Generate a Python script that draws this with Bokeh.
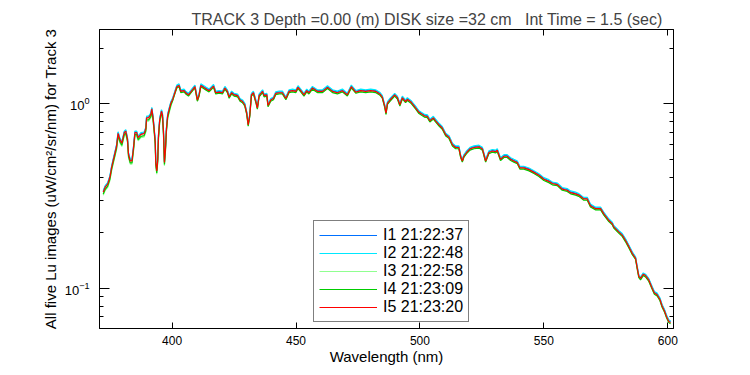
from bokeh.plotting import figure
from bokeh.models import (FixedTicker, LinearAxis, LogAxis, Legend, LegendItem, Range1d)
from bokeh.embed import file_html
from bokeh.resources import INLINE

FONT = "Liberation Sans"

# ---------------- data ----------------
wavelength = [
    372.2, 373.0, 374.0, 374.9, 375.6, 376.2, 377.0, 377.6, 378.2, 378.9,
    379.7, 380.7, 381.3, 382.0, 382.4, 383.1, 383.8, 384.4, 385.0, 385.7,
    386.3, 387.4, 388.7, 389.4, 389.7, 390.5, 391.4, 391.8, 392.3, 392.7,
    393.2, 393.4, 393.8, 394.2, 394.5, 395.0, 395.7, 396.1, 396.5, 396.9,
    397.3, 397.7, 398.2, 398.8, 399.5, 400.2, 401.1, 401.9, 402.8, 403.5,
    404.8, 405.5, 406.6, 407.5, 409.2, 410.2, 410.9, 411.6, 413.6, 414.9,
    416.7, 417.6, 419.0, 420.3, 421.3, 422.3, 423.0, 424.0, 425.0, 426.4,
    427.4, 428.4, 429.3, 430.1, 430.7, 431.3, 432.0, 432.8, 433.8, 434.4,
    435.1, 436.5, 437.1, 438.2, 438.7, 439.8, 440.9, 441.8, 443.2, 444.5,
    445.9, 447.2, 448.6, 449.9, 450.8, 451.9, 453.2, 454.3, 455.2, 456.6,
    458.6, 460.7, 462.7, 464.7, 466.7, 468.7, 470.7, 472.3, 474.1, 476.1,
    478.1, 480.1, 482.1, 483.9, 484.8, 485.8, 486.3, 486.9, 487.9, 489.8,
    490.9, 491.9, 492.9, 494.2, 494.9, 496.5, 498.3, 499.6, 501.0, 501.9,
    503.0, 504.0, 505.4, 506.3, 507.7, 509.0, 510.4, 511.7, 513.1, 514.4,
    515.7, 516.4, 517.1, 517.7, 518.8, 520.2, 521.8, 523.8, 525.2, 526.5,
    527.8, 529.2, 530.5, 531.2, 532.5, 533.9, 535.2, 536.6, 537.9, 539.3,
    540.3, 541.9, 544.0, 546.0, 548.0, 550.0, 552.0, 553.4, 555.4, 557.4,
    559.4, 560.8, 562.8, 564.1, 566.1, 567.5, 568.8, 570.9, 572.9, 574.2,
    576.2, 577.6, 578.2, 580.2, 581.6, 582.9, 584.3, 585.7, 587.0, 587.7,
    588.3, 589.0, 590.1, 591.0, 592.3, 593.7, 594.6, 595.7, 596.8, 597.7,
    598.7, 599.5, 600.4, 601.1,
]

lu_i1 = [
    0.335, 0.357, 0.371, 0.404, 0.457, 0.496, 0.550, 0.597, 0.699, 0.648,
    0.617, 0.705, 0.719, 0.648, 0.538, 0.496, 0.496, 0.579, 0.705, 0.705,
    0.663, 0.691, 0.697, 0.740, 0.849, 0.849, 0.884, 0.949, 0.849, 0.750,
    0.623, 0.486, 0.437, 0.506, 0.676, 0.831, 0.921, 0.884, 0.719, 0.486,
    0.573, 0.734, 0.874, 0.940, 1.020, 1.066, 1.162, 1.252, 1.273, 1.182,
    1.192, 1.162, 1.131, 1.172, 1.252, 1.061, 1.131, 1.273, 1.222, 1.192,
    1.263, 1.162, 1.172, 1.162, 1.232, 1.182, 1.101, 1.162, 1.131, 1.121,
    1.061, 1.040, 1.000, 0.899, 0.778, 0.869, 1.131, 1.162, 1.040, 0.960,
    1.121, 1.182, 1.121, 1.131, 0.990, 1.061, 1.081, 1.151, 1.162, 1.162,
    1.081, 1.182, 1.192, 1.182, 1.242, 1.192, 1.131, 1.192, 1.162, 1.232,
    1.182, 1.182, 1.242, 1.182, 1.162, 1.192, 1.131, 1.252, 1.172, 1.192,
    1.182, 1.192, 1.182, 1.141, 1.101, 0.980, 0.899, 1.020, 1.061, 1.131,
    1.091, 1.000, 1.091, 1.040, 1.071, 1.030, 0.960, 0.909, 0.884, 0.869,
    0.864, 0.818, 0.848, 0.818, 0.778, 0.747, 0.687, 0.667, 0.606, 0.586,
    0.586, 0.525, 0.495, 0.525, 0.550, 0.576, 0.586, 0.591, 0.576, 0.495,
    0.550, 0.561, 0.556, 0.566, 0.505, 0.525, 0.525, 0.505, 0.495, 0.485,
    0.455, 0.455, 0.444, 0.429, 0.414, 0.394, 0.384, 0.374, 0.369, 0.348,
    0.343, 0.333, 0.328, 0.323, 0.308, 0.308, 0.283, 0.273, 0.273, 0.256,
    0.235, 0.226, 0.217, 0.204, 0.196, 0.184, 0.170, 0.156, 0.146, 0.129,
    0.117, 0.114, 0.120, 0.118, 0.112, 0.101, 0.095, 0.093, 0.0879, 0.0808,
    0.0758, 0.0707, 0.0667, 0.0657,
]

lu_i2 = [
    0.339, 0.360, 0.374, 0.408, 0.461, 0.501, 0.556, 0.603, 0.706, 0.655,
    0.623, 0.712, 0.726, 0.655, 0.544, 0.501, 0.501, 0.584, 0.712, 0.712,
    0.669, 0.698, 0.704, 0.748, 0.858, 0.858, 0.893, 0.959, 0.858, 0.758,
    0.629, 0.491, 0.442, 0.511, 0.682, 0.839, 0.930, 0.893, 0.726, 0.491,
    0.578, 0.742, 0.882, 0.950, 1.030, 1.076, 1.173, 1.265, 1.285, 1.193,
    1.204, 1.173, 1.142, 1.183, 1.265, 1.071, 1.142, 1.285, 1.234, 1.204,
    1.275, 1.173, 1.183, 1.173, 1.244, 1.193, 1.112, 1.173, 1.142, 1.132,
    1.071, 1.051, 1.010, 0.908, 0.785, 0.877, 1.142, 1.173, 1.051, 0.969,
    1.132, 1.193, 1.132, 1.142, 1.000, 1.071, 1.091, 1.163, 1.173, 1.173,
    1.091, 1.193, 1.204, 1.193, 1.255, 1.204, 1.142, 1.204, 1.173, 1.244,
    1.193, 1.193, 1.255, 1.193, 1.173, 1.204, 1.142, 1.265, 1.183, 1.204,
    1.193, 1.204, 1.193, 1.153, 1.112, 0.989, 0.908, 1.030, 1.071, 1.142,
    1.102, 1.010, 1.102, 1.051, 1.081, 1.040, 0.969, 0.918, 0.893, 0.877,
    0.872, 0.826, 0.857, 0.826, 0.785, 0.755, 0.694, 0.673, 0.612, 0.592,
    0.592, 0.530, 0.500, 0.530, 0.556, 0.581, 0.592, 0.597, 0.581, 0.500,
    0.556, 0.566, 0.561, 0.571, 0.510, 0.530, 0.530, 0.510, 0.500, 0.490,
    0.459, 0.459, 0.449, 0.434, 0.418, 0.398, 0.388, 0.377, 0.372, 0.352,
    0.347, 0.337, 0.332, 0.326, 0.311, 0.311, 0.286, 0.275, 0.275, 0.258,
    0.238, 0.228, 0.219, 0.206, 0.198, 0.186, 0.171, 0.157, 0.148, 0.131,
    0.118, 0.115, 0.121, 0.119, 0.113, 0.102, 0.096, 0.094, 0.0887, 0.0816,
    0.0765, 0.0714, 0.0673, 0.0663,
]

lu_i3 = [
    0.319, 0.339, 0.352, 0.384, 0.434, 0.471, 0.523, 0.567, 0.664, 0.616,
    0.587, 0.670, 0.684, 0.616, 0.512, 0.471, 0.471, 0.550, 0.670, 0.670,
    0.630, 0.657, 0.662, 0.704, 0.807, 0.807, 0.840, 0.902, 0.807, 0.713,
    0.592, 0.462, 0.416, 0.481, 0.642, 0.790, 0.876, 0.840, 0.684, 0.462,
    0.544, 0.698, 0.830, 0.894, 0.970, 1.044, 1.139, 1.228, 1.247, 1.158,
    1.168, 1.139, 1.109, 1.148, 1.228, 1.040, 1.109, 1.247, 1.198, 1.168,
    1.238, 1.139, 1.148, 1.139, 1.208, 1.158, 1.079, 1.139, 1.109, 1.099,
    1.040, 1.020, 0.980, 0.881, 0.762, 0.851, 1.109, 1.139, 1.020, 0.941,
    1.099, 1.158, 1.099, 1.109, 0.970, 1.040, 1.059, 1.129, 1.139, 1.139,
    1.059, 1.158, 1.168, 1.158, 1.218, 1.168, 1.109, 1.168, 1.139, 1.208,
    1.158, 1.158, 1.218, 1.158, 1.139, 1.168, 1.109, 1.228, 1.148, 1.168,
    1.158, 1.168, 1.158, 1.119, 1.079, 0.960, 0.881, 1.000, 1.040, 1.109,
    1.069, 0.980, 1.069, 1.020, 1.049, 1.010, 0.941, 0.891, 0.866, 0.851,
    0.846, 0.802, 0.832, 0.802, 0.762, 0.733, 0.673, 0.653, 0.594, 0.574,
    0.574, 0.515, 0.485, 0.515, 0.540, 0.564, 0.574, 0.579, 0.564, 0.485,
    0.540, 0.549, 0.545, 0.554, 0.495, 0.515, 0.515, 0.495, 0.485, 0.475,
    0.446, 0.446, 0.436, 0.421, 0.406, 0.386, 0.376, 0.366, 0.361, 0.342,
    0.337, 0.327, 0.322, 0.317, 0.302, 0.302, 0.277, 0.267, 0.267, 0.250,
    0.231, 0.222, 0.213, 0.200, 0.192, 0.180, 0.166, 0.152, 0.144, 0.127,
    0.115, 0.112, 0.118, 0.116, 0.110, 0.099, 0.093, 0.091, 0.0861, 0.0792,
    0.0743, 0.0693, 0.0653, 0.0644,
]

lu_i4 = [
    0.324, 0.344, 0.358, 0.390, 0.441, 0.479, 0.531, 0.576, 0.675, 0.626,
    0.596, 0.681, 0.694, 0.626, 0.520, 0.479, 0.479, 0.559, 0.681, 0.681,
    0.640, 0.667, 0.673, 0.715, 0.820, 0.820, 0.853, 0.917, 0.820, 0.724,
    0.602, 0.469, 0.422, 0.488, 0.652, 0.802, 0.889, 0.853, 0.694, 0.469,
    0.553, 0.709, 0.843, 0.908, 0.985, 1.039, 1.133, 1.221, 1.241, 1.152,
    1.162, 1.133, 1.103, 1.143, 1.221, 1.034, 1.103, 1.241, 1.192, 1.162,
    1.231, 1.133, 1.143, 1.133, 1.202, 1.152, 1.074, 1.133, 1.103, 1.093,
    1.034, 1.015, 0.975, 0.877, 0.758, 0.847, 1.103, 1.133, 1.015, 0.936,
    1.093, 1.152, 1.093, 1.103, 0.965, 1.034, 1.054, 1.123, 1.133, 1.133,
    1.054, 1.152, 1.162, 1.152, 1.212, 1.162, 1.103, 1.162, 1.133, 1.202,
    1.152, 1.152, 1.212, 1.152, 1.133, 1.162, 1.103, 1.221, 1.143, 1.162,
    1.152, 1.162, 1.152, 1.113, 1.074, 0.955, 0.877, 0.995, 1.034, 1.103,
    1.064, 0.975, 1.064, 1.015, 1.044, 1.005, 0.936, 0.887, 0.862, 0.847,
    0.842, 0.798, 0.827, 0.798, 0.758, 0.729, 0.670, 0.650, 0.591, 0.571,
    0.571, 0.512, 0.483, 0.512, 0.537, 0.561, 0.571, 0.576, 0.561, 0.483,
    0.537, 0.547, 0.542, 0.552, 0.493, 0.512, 0.512, 0.493, 0.483, 0.473,
    0.443, 0.443, 0.433, 0.419, 0.404, 0.384, 0.374, 0.364, 0.360, 0.340,
    0.335, 0.325, 0.320, 0.315, 0.300, 0.300, 0.276, 0.266, 0.266, 0.249,
    0.230, 0.221, 0.212, 0.199, 0.191, 0.179, 0.165, 0.152, 0.143, 0.126,
    0.114, 0.111, 0.117, 0.115, 0.109, 0.0985, 0.0926, 0.0906, 0.0857, 0.0788,
    0.0739, 0.0690, 0.0650, 0.0640,
]

lu_i5 = [
    0.332, 0.353, 0.367, 0.400, 0.452, 0.491, 0.545, 0.591, 0.692, 0.642,
    0.611, 0.698, 0.712, 0.642, 0.533, 0.491, 0.491, 0.573, 0.698, 0.698,
    0.656, 0.684, 0.690, 0.733, 0.841, 0.841, 0.875, 0.940, 0.841, 0.743,
    0.617, 0.481, 0.433, 0.501, 0.669, 0.823, 0.912, 0.875, 0.712, 0.481,
    0.567, 0.727, 0.865, 0.931, 1.010, 1.055, 1.150, 1.240, 1.260, 1.170,
    1.180, 1.150, 1.120, 1.160, 1.240, 1.050, 1.120, 1.260, 1.210, 1.180,
    1.250, 1.150, 1.160, 1.150, 1.220, 1.170, 1.090, 1.150, 1.120, 1.110,
    1.050, 1.030, 0.990, 0.890, 0.770, 0.860, 1.120, 1.150, 1.030, 0.950,
    1.110, 1.170, 1.110, 1.120, 0.980, 1.050, 1.070, 1.140, 1.150, 1.150,
    1.070, 1.170, 1.180, 1.170, 1.230, 1.180, 1.120, 1.180, 1.150, 1.220,
    1.170, 1.170, 1.230, 1.170, 1.150, 1.180, 1.120, 1.240, 1.160, 1.180,
    1.170, 1.180, 1.170, 1.130, 1.090, 0.970, 0.890, 1.010, 1.050, 1.120,
    1.080, 0.990, 1.080, 1.030, 1.060, 1.020, 0.950, 0.900, 0.875, 0.860,
    0.855, 0.810, 0.840, 0.810, 0.770, 0.740, 0.680, 0.660, 0.600, 0.580,
    0.580, 0.520, 0.490, 0.520, 0.545, 0.570, 0.580, 0.585, 0.570, 0.490,
    0.545, 0.555, 0.550, 0.560, 0.500, 0.520, 0.520, 0.500, 0.490, 0.480,
    0.450, 0.450, 0.440, 0.425, 0.410, 0.390, 0.380, 0.370, 0.365, 0.345,
    0.340, 0.330, 0.325, 0.320, 0.305, 0.305, 0.280, 0.270, 0.270, 0.253,
    0.233, 0.224, 0.215, 0.202, 0.194, 0.182, 0.168, 0.154, 0.145, 0.128,
    0.116, 0.113, 0.119, 0.117, 0.111, 0.100, 0.094, 0.092, 0.087, 0.080,
    0.075, 0.070, 0.066, 0.065,
]

series_labels = ["I1 21:22:37", "I2 21:22:48", "I3 21:22:58", "I4 21:23:09", "I5 21:23:20"]
series_colors = ["#0070ff", "#00e8ff", "#90ff90", "#00cc00", "#ff0000"]
x_ticks = [400, 450, 500, 550, 600]
y_major_ticks = [0.1, 1.0]
y_minor_ticks = [0.07, 0.08, 0.09, 0.2, 0.3, 0.4, 0.5, 0.6, 0.7, 0.8, 0.9, 2.0]

# ---------------- figure ----------------
p = figure(width=742, height=367, y_axis_type="log",
           x_range=Range1d(370.7, 602.3), y_range=Range1d(0.0604, 2.535),
           output_backend="svg", toolbar_location=None,
           min_border_left=99, min_border_right=69, min_border_top=29, min_border_bottom=37,
           background_fill_color="white", border_fill_color="white")

p.title.text = "TRACK 3 Depth =0.00 (m) DISK size =32 cm\u00a0\u00a0 Int Time = 1.5 (sec)"
p.title.text_font = FONT
p.title.text_font_size = "16px"
p.title.text_font_style = "normal"
p.title.align = "left"
p.title.offset = 92
p.title.standoff = 3

p.xgrid.visible = False
p.ygrid.visible = False
p.outline_line_color = "black"
p.outline_line_width = 1

all_series = [lu_i1, lu_i2, lu_i3, lu_i4, lu_i5]
items = []
for vals, col, lab in zip(all_series, series_colors, series_labels):
    r = p.line(wavelength, vals, line_color=col, line_width=1.2)
    items.append(LegendItem(label=lab, renderers=[r]))

# bottom axis
xa = p.xaxis[0]
xa.ticker = FixedTicker(ticks=x_ticks, minor_ticks=[])
xa.major_tick_in = 6
xa.major_tick_out = 0
xa.minor_tick_in = 0
xa.minor_tick_out = 0
xa.axis_line_color = "black"
xa.major_tick_line_color = "black"
xa.major_label_text_font = FONT
xa.major_label_text_font_size = "12px"
xa.major_label_text_color = "black"
xa.major_label_standoff = 7
xa.axis_label = "Wavelength (nm)"
xa.axis_label_text_font = FONT
xa.axis_label_text_font_size = "15px"
xa.axis_label_text_font_style = "normal"
xa.axis_label_text_color = "black"
xa.axis_label_standoff = 0

# left axis
ya = p.yaxis[0]
ya.ticker = FixedTicker(ticks=y_major_ticks, minor_ticks=y_minor_ticks)
ya.major_tick_in = 10
ya.major_tick_out = 0
ya.minor_tick_in = 4
ya.minor_tick_out = 0
ya.axis_line_color = "black"
ya.major_tick_line_color = "black"
ya.minor_tick_line_color = "black"
ya.major_label_text_font = FONT
ya.major_label_text_font_size = "13px"
ya.major_label_text_color = "black"
ya.major_label_standoff = 10
ya.axis_label = "All five Lu images (uW/cm\u00b2/sr/nm) for Track 3"
ya.axis_label_text_font = FONT
ya.axis_label_text_font_size = "15px"
ya.axis_label_text_font_style = "normal"
ya.axis_label_text_color = "black"
ya.axis_label_standoff = 3

# mirrored tick-only axes (labels invisible)
top = LinearAxis(ticker=FixedTicker(ticks=x_ticks, minor_ticks=[]),
                 major_tick_in=6, major_tick_out=0, minor_tick_in=0, minor_tick_out=0,
                 major_label_text_font_size="1px", major_label_text_alpha=0.0,
                 major_label_standoff=0,
                 axis_line_color="black", major_tick_line_color="black")
p.add_layout(top, "above")
right = LogAxis(ticker=FixedTicker(ticks=y_major_ticks, minor_ticks=y_minor_ticks),
                major_tick_in=10, major_tick_out=0, minor_tick_in=4, minor_tick_out=0,
                major_label_text_font_size="1px", major_label_text_alpha=0.0,
                major_label_standoff=0,
                axis_line_color="black", major_tick_line_color="black",
                minor_tick_line_color="black")
p.add_layout(right, "right")

legend = Legend(items=items, location=(214, 6),
                border_line_color="black", border_line_width=1,
                background_fill_color="white", background_fill_alpha=1.0,
                label_text_font=FONT, label_text_font_size="16px", label_text_color="black",
                glyph_width=58, glyph_height=18, label_height=18, label_standoff=6,
                spacing=0, padding=5, margin=0)
p.add_layout(legend, "center")

open("out.html", "w").write(file_html(p, INLINE))
